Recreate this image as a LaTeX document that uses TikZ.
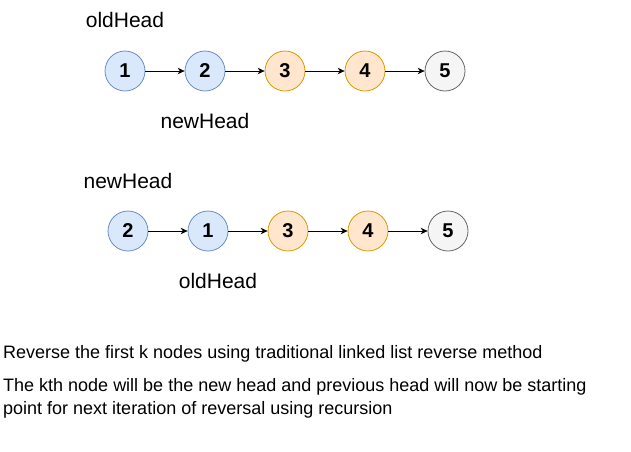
\documentclass[tikz,border=0pt]{standalone}
\usepackage{fontspec}
\setmainfont{Liberation Sans}
\usetikzlibrary{arrows.meta}
\definecolor{bfill}{HTML}{DAE8FC}
\definecolor{bline}{HTML}{6C8EBF}
\definecolor{ofill}{HTML}{FFE6CC}
\definecolor{oline}{HTML}{D79B00}
\definecolor{gfill}{HTML}{F5F5F5}
\definecolor{gline}{HTML}{666666}
\tikzset{
  lnode/.style={circle, minimum size=40pt, inner sep=0pt, font=\fontsize{20}{22}\selectfont\bfseries, line width=0.8pt},
  bnode/.style={lnode, draw=bline, fill=bfill},
  onode/.style={lnode, draw=oline, fill=ofill},
  gnode/.style={lnode, draw=gline, fill=gfill},
  lbl/.style={font=\fontsize{21}{23}\selectfont, inner sep=0pt},
  txt/.style={font=\fontsize{18}{20}\selectfont, inner sep=0pt, anchor=west},
  arr/.style={-{Stealth[length=7pt,width=6.5pt]}, line width=0.8pt}
}
\begin{document}
\begin{tikzpicture}[x=1pt,y=-1pt]
\useasboundingbox (0,0) rectangle (631,451);
% row 1
\node[bnode] (a1) at (125,71) {1};
\node[bnode] (a2) at (205,71) {2};
\node[onode] (a3) at (285,71) {3};
\node[onode] (a4) at (365,71) {4};
\node[gnode] (a5) at (445,71) {5};
\draw[arr] (a1) -- (a2);
\draw[arr] (a2) -- (a3);
\draw[arr] (a3) -- (a4);
\draw[arr] (a4) -- (a5);
\node[lbl] (oh1) at (125,20) {oldHead};
\node[lbl] (nh1) at (205,121) {newHead};
% row 2
\node[bnode] (b1) at (128,231) {2};
\node[bnode] (b2) at (208,231) {1};
\node[onode] (b3) at (288,231) {3};
\node[onode] (b4) at (368,231) {4};
\node[gnode] (b5) at (448,231) {5};
\draw[arr] (b1) -- (b2);
\draw[arr] (b2) -- (b3);
\draw[arr] (b3) -- (b4);
\draw[arr] (b4) -- (b5);
\node[lbl] (nh2) at (128,181) {newHead};
\node[lbl] (oh2) at (218,281) {oldHead};
% text
\node[txt] (t1) at (3,354) {Reverse the first k nodes using traditional linked list reverse method};
\node[txt] (t2) at (3,387) {The kth node will be the new head and previous head will now be starting};
\node[txt] (t3) at (3,410) {point for next iteration of reversal using recursion};
\end{tikzpicture}
\end{document}
